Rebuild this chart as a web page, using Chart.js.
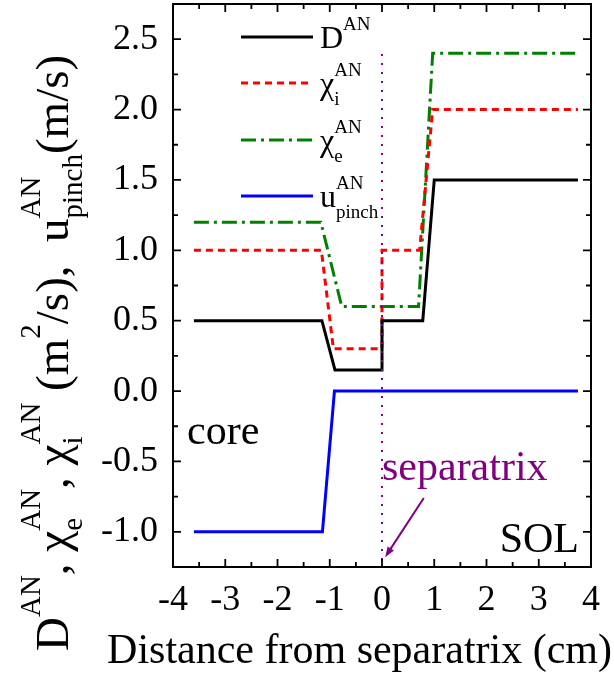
<!DOCTYPE html>
<html><head><meta charset="utf-8">
<script src="https://cdn.jsdelivr.net/npm/chart.js"></script>
<style>
  html, body { margin: 0; padding: 0; background: #fff; }
  canvas { display: block; }
</style>
</head>
<body>
<canvas id="chart" width="614" height="677"></canvas>
<script>
  // data (x in cm)
  const dX = [-3.6, -1.15, -0.9, 0, 0, 0.78, 1.0, 3.75];
  const dY = [0.5, 0.5, 0.15, 0.15, 0.5, 0.5, 1.5, 1.5];
  const chiIX = [-3.6, -1.16, -0.93, 0, 0, 0.72, 0.97, 3.75];
  const chiIY = [1.0, 1.0, 0.3, 0.3, 1.0, 1.0, 2.0, 2.0];
  const chiEX = [-3.6, -1.17, -0.77, 0.7, 0.97, 3.75];
  const chiEY = [1.2, 1.2, 0.6, 0.6, 2.4, 2.4];
  const uX = [-3.6, -1.14, -0.91, 3.75];
  const uY = [-1.0, -1.0, 0.0, 0.0];
  const sepX = [0, 0];
  const sepY = [-1.2, 2.4];

  const xTicks = [-4, -3, -2, -1, 0, 1, 2, 3, 4];
  const yTicks = [-1.0, -0.5, 0.0, 0.5, 1.0, 1.5, 2.0, 2.5];

  // arrow from label to separatrix (data units)
  const arrowFrom = [0.8, -0.76];
  const arrowTo = [0.06, -1.18];

  const SERIF = '"Liberation Serif", "Times New Roman", serif';

  function pts(xs, ys) { return xs.map((x, i) => ({ x: x, y: ys[i] })); }

  // text with stacked sub/superscripts, drawn left to right from (x, y) baseline
  function drawRich(ctx, parts, x, y, size, small, rise, drop) {
    for (const p of parts) {
      ctx.font = size + 'px ' + SERIF;
      ctx.fillText(p.t, x, y);
      x += ctx.measureText(p.t).width;
      let w = 0;
      ctx.font = small + 'px ' + SERIF;
      if (p.sup) { ctx.fillText(p.sup, x, y - rise); w = Math.max(w, ctx.measureText(p.sup).width); }
      if (p.sub) { ctx.fillText(p.sub, x, y + drop); w = Math.max(w, ctx.measureText(p.sub).width); }
      x += w;
    }
    return x;
  }

  const legendItems = [
    { parts: [{ t: 'D', sup: 'AN' }], color: '#000000', dash: [] },
    { parts: [{ t: 'χ', sub: 'i', sup: 'AN' }], color: '#ff0000', dash: [7, 5] },
    { parts: [{ t: 'χ', sub: 'e', sup: 'AN' }], color: '#008000', dash: [15, 5, 3, 5] },
    { parts: [{ t: 'u', sub: 'pinch', sup: 'AN' }], color: '#0000ff', dash: [] }
  ];

  const extras = {
    id: 'extras',
    afterDraw(chart) {
      const ctx = chart.ctx;
      const a = chart.chartArea;
      const xs = chart.scales.x, ys = chart.scales.y;
      ctx.save();

      // frame
      ctx.strokeStyle = '#000';
      ctx.lineWidth = 2;
      ctx.setLineDash([]);
      ctx.strokeRect(a.left, a.top, a.right - a.left, a.bottom - a.top);

      // inward ticks on all sides
      ctx.lineWidth = 1.8;
      ctx.beginPath();
      for (let v = -4; v <= 4.001; v += 0.5) {
        const px = xs.getPixelForValue(v);
        const len = Math.abs(v - Math.round(v)) < 1e-6 ? 8 : 5;
        ctx.moveTo(px, a.bottom); ctx.lineTo(px, a.bottom - len);
        ctx.moveTo(px, a.top); ctx.lineTo(px, a.top + len);
      }
      for (let v = -1.25; v <= 2.751; v += 0.25) {
        const py = ys.getPixelForValue(v);
        const len = Math.abs(v * 2 - Math.round(v * 2)) < 1e-6 ? 8 : 5;
        ctx.moveTo(a.left, py); ctx.lineTo(a.left + len, py);
        ctx.moveTo(a.right, py); ctx.lineTo(a.right - len, py);
      }
      ctx.stroke();

      // legend
      ctx.fillStyle = '#000';
      ctx.textAlign = 'left';
      ctx.textBaseline = 'alphabetic';
      const legY = [37, 83, 140, 196];
      legendItems.forEach((it, i) => {
        ctx.strokeStyle = it.color;
        ctx.lineWidth = 3;
        ctx.setLineDash(it.dash);
        ctx.beginPath();
        ctx.moveTo(241, legY[i]);
        ctx.lineTo(313, legY[i]);
        ctx.stroke();
        ctx.setLineDash([]);
        ctx.fillStyle = '#000';
        drawRich(ctx, it.parts, 320, legY[i] + 11, 32, 19, 18, 11);
      });

      // annotations
      ctx.font = '42px ' + SERIF;
      ctx.fillStyle = '#000';
      ctx.fillText('core', xs.getPixelForValue(-3.73), ys.getPixelForValue(-0.375));
      ctx.textAlign = 'right';
      ctx.fillText('SOL', xs.getPixelForValue(3.77), ys.getPixelForValue(-1.14));
      ctx.textAlign = 'left';
      ctx.fillStyle = '#800080';
      ctx.fillText('separatrix', xs.getPixelForValue(0.0), ys.getPixelForValue(-0.63));

      // arrow
      const x1 = xs.getPixelForValue(arrowFrom[0]), y1 = ys.getPixelForValue(arrowFrom[1]);
      const x2 = xs.getPixelForValue(arrowTo[0]), y2 = ys.getPixelForValue(arrowTo[1]);
      const ang = Math.atan2(y2 - y1, x2 - x1);
      ctx.strokeStyle = '#800080';
      ctx.lineWidth = 2;
      ctx.beginPath();
      ctx.moveTo(x1, y1);
      ctx.lineTo(x2 - 6 * Math.cos(ang), y2 - 6 * Math.sin(ang));
      ctx.stroke();
      ctx.beginPath();
      ctx.moveTo(x2, y2);
      ctx.lineTo(x2 - 11 * Math.cos(ang - 0.35), y2 - 11 * Math.sin(ang - 0.35));
      ctx.lineTo(x2 - 11 * Math.cos(ang + 0.35), y2 - 11 * Math.sin(ang + 0.35));
      ctx.closePath();
      ctx.fillStyle = '#800080';
      ctx.fill();

      // x title
      ctx.fillStyle = '#000';
      ctx.font = '42px ' + SERIF;
      ctx.textAlign = 'right';
      ctx.fillText('Distance from separatrix (cm)', 612, 663);

      // y title (rotated)
      ctx.textAlign = 'left';
      ctx.translate(68, 651);
      ctx.rotate(-Math.PI / 2);
      drawRich(ctx, [
        { t: 'D', sup: 'AN' }, { t: ', ' },
        { t: 'χ', sub: 'e', sup: 'AN' }, { t: ', ' },
        { t: 'χ', sub: 'i', sup: 'AN' }, { t: ' (m', sup: '2' },
        { t: '/s),  ' },
        { t: 'u', sub: 'pinch', sup: 'AN' }, { t: '(m/s)' }
      ], 0, 0, 47, 29, 28, 14);
      ctx.restore();
    }
  };

  const lineStyle = { pointRadius: 0, tension: 0, borderWidth: 3, fill: false };

  new Chart(document.getElementById('chart'), {
    type: 'line',
    data: {
      datasets: [
        Object.assign({ label: 'sep', data: pts(sepX, sepY), borderColor: '#800080', borderWidth: 2, borderDash: [2, 7], pointRadius: 0, order: 0 }),
        Object.assign({ label: 'D', data: pts(dX, dY), borderColor: '#000000', order: 1 }, lineStyle),
        Object.assign({ label: 'chi_i', data: pts(chiIX, chiIY), borderColor: '#ff0000', borderDash: [7, 5], order: 2 }, lineStyle),
        Object.assign({ label: 'chi_e', data: pts(chiEX, chiEY), borderColor: '#008000', borderDash: [15, 5, 3, 5], order: 3 }, lineStyle),
        Object.assign({ label: 'u_pinch', data: pts(uX, uY), borderColor: '#0000ff', order: 4 }, lineStyle)
      ]
    },
    options: {
      responsive: false,
      animation: false,
      devicePixelRatio: 1,
      layout: { padding: { top: 4, right: 23, left: 0, bottom: 0 } },
      plugins: { legend: { display: false }, tooltip: { enabled: false } },
      scales: {
        x: {
          type: 'linear', min: -4, max: 4,
          grid: { display: false, drawTicks: false },
          border: { display: false },
          afterBuildTicks: (s) => { s.ticks = xTicks.map(v => ({ value: v })); },
          afterFit: (s) => { s.height = 110; s.paddingLeft = 0; s.paddingRight = 0; },
          ticks: { color: '#000', font: { family: SERIF, size: 36 }, padding: 12, maxRotation: 0, autoSkip: false,
                   callback: (v) => String(v) }
        },
        y: {
          type: 'linear', min: -1.25, max: 2.75,
          grid: { display: false, drawTicks: false },
          border: { display: false },
          afterBuildTicks: (s) => { s.ticks = yTicks.map(v => ({ value: v })); },
          afterFit: (s) => { s.width = 173; s.paddingTop = 0; s.paddingBottom = 0; },
          ticks: { color: '#000', font: { family: SERIF, size: 36 }, padding: 15, autoSkip: false,
                   callback: (v) => v.toFixed(1) }
        }
      }
    },
    plugins: [extras]
  });
</script>
</body></html>
